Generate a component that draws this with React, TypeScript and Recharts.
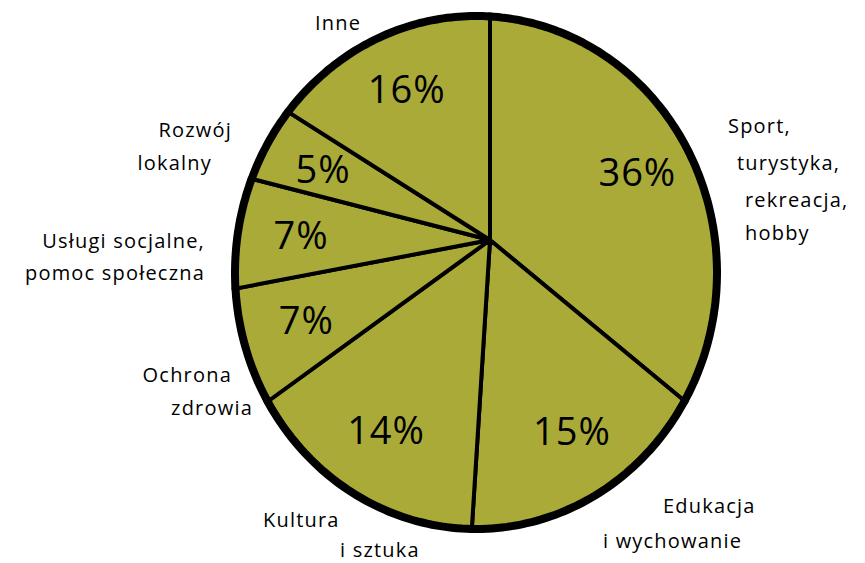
import { PieChart, Pie } from 'recharts';

// udział organizacji wg głównego obszaru działalności (%)
const categories = [
  'Sport, turystyka, rekreacja, hobby',
  'Edukacja i wychowanie',
  'Kultura i sztuka',
  'Ochrona zdrowia',
  'Usługi socjalne, pomoc społeczna',
  'Rozwój lokalny',
  'Inne',
];
const shares = [36, 15, 14, 7, 7, 5, 16];
const labelLines = [
  ['Sport,', 'turystyka,', 'rekreacja,', 'hobby'],
  ['Edukacja', 'i wychowanie'],
  ['Kultura', 'i sztuka'],
  ['Ochrona', 'zdrowia'],
  ['Usługi socjalne,', 'pomoc społeczna'],
  ['Rozwój', 'lokalny'],
  ['Inne'],
];

const rows = categories.map((name, i) => ({ name, value: shares[i] }));

// outline of the hand-drawn "pie" (an ellipse, apex off-centre)
const OUTLINE = { cx: 476, cy: 272.5, rx: 241, ry: 256.5 };
const APEX = { x: 490, y: 240 };
const OLIVE = '#A9AA38';
const FONT = '"Open Sans", "DejaVu Sans", sans-serif';

// where the category names sit, per line
const labelLayout: { anchor: 'start' | 'end' | 'middle'; pos: [number, number][] }[] = [
  { anchor: 'start', pos: [[728, 133], [737, 170], [745, 207], [745, 240]] },
  { anchor: 'start', pos: [[663, 513], [603, 548]] },
  { anchor: 'start', pos: [[263, 527], [340, 557]] },
  { anchor: 'end', pos: [[232, 382], [253, 415]] },
  { anchor: 'end', pos: [[205, 248], [205, 280]] },
  { anchor: 'end', pos: [[232, 137], [212, 170]] },
  { anchor: 'middle', pos: [[338, 30]] },
];

const RAD = Math.PI / 180;

// distance from the apex to the outline along a given angle
function reach(cx: number, cy: number, angle: number) {
  const dx = Math.cos(-angle * RAD);
  const dy = Math.sin(-angle * RAD);
  const px = cx - OUTLINE.cx;
  const py = cy - OUTLINE.cy;
  const rx2 = OUTLINE.rx * OUTLINE.rx;
  const ry2 = OUTLINE.ry * OUTLINE.ry;
  const a = (dx * dx) / rx2 + (dy * dy) / ry2;
  const b = 2 * ((px * dx) / rx2 + (py * dy) / ry2);
  const c = (px * px) / rx2 + (py * py) / ry2 - 1;
  const t = (-b + Math.sqrt(b * b - 4 * a * c)) / (2 * a);
  return { t, dx, dy };
}

function rimPoints(cx: number, cy: number, start: number, end: number) {
  const steps = Math.max(2, Math.ceil(Math.abs(start - end)));
  const pts: string[] = [];
  for (let k = 0; k <= steps; k++) {
    const ang = start + ((end - start) * k) / steps;
    const { t, dx, dy } = reach(cx, cy, ang);
    pts.push(`${(cx + t * dx).toFixed(1)},${(cy + t * dy).toFixed(1)}`);
  }
  return pts;
}

function renderSlice(props: any) {
  const { cx, cy, startAngle, endAngle, index } = props;
  const pts = rimPoints(cx, cy, startAngle, endAngle);
  return (
    <path
      key={`slice-${index}`}
      d={`M${cx},${cy} L${pts.join(' L')} Z`}
      fill={OLIVE}
      stroke="#000"
      strokeWidth={4}
      strokeLinejoin="round"
    />
  );
}

function renderText(props: any) {
  const { cx, cy, startAngle, endAngle, midAngle, index, value } = props;
  const rim = rimPoints(cx, cy, startAngle, endAngle);
  const { t, dx, dy } = reach(cx, cy, midAngle);
  const lx = cx + t * 0.75 * dx;
  const ly = cy + t * 0.75 * dy;
  const layout = labelLayout[index];
  return (
    <g key={`text-${index}`}>
      <path d={`M${rim.join(' L')}`} fill="none" stroke="#000" strokeWidth={8} strokeLinecap="round" />
      <text
        x={lx}
        y={ly}
        textAnchor="middle"
        dominantBaseline="central"
        fontFamily={FONT}
        fontSize={38}
        fontWeight={400}
        letterSpacing={1}
        fill="#000"
      >
        {`${value}%`}
      </text>
      {labelLines[index].map((line, j) => (
        <text
          key={j}
          x={layout.pos[j][0]}
          y={layout.pos[j][1]}
          textAnchor={layout.anchor}
          fontFamily={FONT}
          fontSize={20}
          letterSpacing={1.2}
          fill="#000"
        >
          {line}
        </text>
      ))}
    </g>
  );
}

export default function App() {
  return (
    <div style={{ position: 'absolute', left: 0, top: 0, width: 865, height: 563, background: '#fff' }}>
      <PieChart width={865} height={563} margin={{ top: 0, right: 0, bottom: 0, left: 0 }}>
        <Pie
          data={rows}
          dataKey="value"
          nameKey="name"
          cx={APEX.x}
          cy={APEX.y}
          outerRadius={200}
          startAngle={90}
          endAngle={-270}
          fill="transparent"
          stroke="none"
          label={renderSlice}
          labelLine={false}
          isAnimationActive={false}
        />
        <Pie
          data={rows}
          dataKey="value"
          nameKey="name"
          cx={APEX.x}
          cy={APEX.y}
          outerRadius={200}
          startAngle={90}
          endAngle={-270}
          fill="transparent"
          stroke="none"
          label={renderText}
          labelLine={false}
          isAnimationActive={false}
        />
      </PieChart>
    </div>
  );
}
